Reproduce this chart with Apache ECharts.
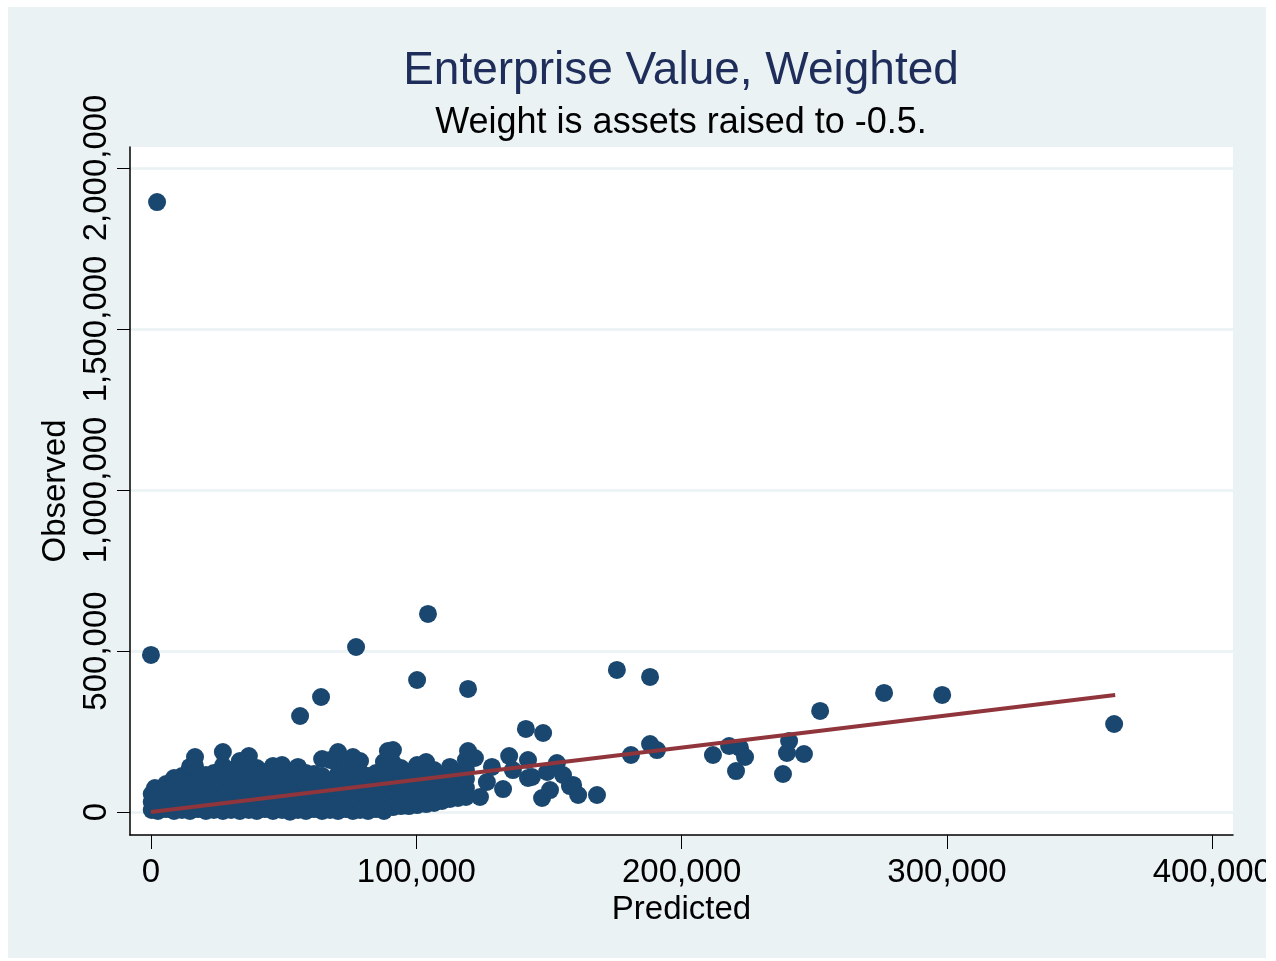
<!DOCTYPE html>
<html>
<head>
<meta charset="utf-8">
<script src="https://cdn.jsdelivr.net/npm/echarts@6/dist/echarts.min.js"></script>
<style>html,body{margin:0;padding:0;background:#fff;}#c{width:1276px;height:961px;}</style>
</head>
<body>
<div id="c"></div>
<script>
// ---- Data (Predicted, Observed) ----
const titleText = 'Enterprise Value, Weighted';
const subtitleText = 'Weight is assets raised to -0.5.';
const xName = 'Predicted';
const yName = 'Observed';
const xTicks = [0, 100000, 200000, 300000, 400000];
const yTicks = [0, 500000, 1000000, 1500000, 2000000];

// dense cluster of small firms
const clusterPoints = [
[300,6200],[300,31100],[300,55900],[1500,74500],
[2600,3100],[2600,28000],[2600,49700],
[5700,9300],[5700,37300],[5700,62100],[5700,87000],
[8700,3100],[8700,24800],[8700,52800],[8700,80700],[8700,105600],
[11700,6200],[11700,34200],[11700,59000],[11700,87000],[11700,111800],
[14700,3100],[14700,28000],[14700,55900],[14700,80700],[14700,108700],[14700,139800],
[16600,170800],[16600,142900],
[17700,9300],[17700,37300],[17700,68300],[17700,96300],
[20700,3100],[20700,31100],[20700,55900],[20700,83900],[20700,114900],
[23700,6200],[23700,34200],[23700,62100],[23700,90100],[23700,121100],
[27100,3100],[27100,28000],[27100,55900],[27100,83900],[27100,111800],[27100,142900],[27100,186300],
[30200,6200],[30200,34200],[30200,65200],[30200,96300],[30200,130400],
[33500,3100],[33500,31100],[33500,59000],[33500,87000],[33500,118000],[33500,158400],
[36900,6200],[36900,37300],[36900,68300],[36900,99400],[36900,133500],[36900,173900],
[39900,3100],[39900,28000],[39900,59000],[39900,87000],[39900,114900],[39900,136600],
[43000,9300],[43000,37300],[43000,65200],[43000,93200],[43000,124200],
[46000,3100],[46000,31100],[46000,59000],[46000,90100],[46000,118000],[46000,142900],
[49400,6200],[49400,34200],[49400,65200],[49400,96300],[49400,127300],[49400,146000],
[52400,1000],[52400,28000],[52400,55900],[52400,83900],[52400,114900],
[55400,6200],[55400,34200],[55400,62100],[55400,90100],[55400,118000],[55400,139800],
[58400,3100],[58400,31100],[58400,59000],[58400,87000],[58400,121100],
[61400,9300],[61400,37300],[61400,65200],[61400,93200],[61400,118000],
[64500,3100],[64500,28000],[64500,55900],[64500,83900],[64500,111800],[64500,164600],
[67500,6200],[67500,34200],[67500,65200],[67500,96300],[67500,161500],
[70500,3100],[70500,31100],[70500,59000],[70500,87000],[70500,118000],[70500,149100],[70500,186300],
[73500,9300],[73500,37300],[73500,68300],[73500,96300],[73500,127300],[73500,146000],
[76100,3100],[76100,28000],[76100,55900],[76100,87000],[76100,118000],[76100,170800],
[78800,6200],[78800,34200],[78800,62100],[78800,90100],[78800,124200],[78800,158400],
[81800,3100],[81800,31100],[81800,59000],[81800,87000],[81800,111800],
[84800,9300],[84800,37300],[84800,65200],[84800,93200],[84800,121100],
[87800,3100],[87800,28000],[87800,55900],[87800,83900],[87800,114900],[87800,155300],
[89300,189400],
[91200,15500],[91200,40400],[91200,65200],[91200,90100],[91200,121100],[91200,152200],[91200,192500],
[94200,18600],[94200,43500],[94200,68300],[94200,93200],[94200,114900],[94200,136600],
[97200,18600],[97200,46600],[97200,71400],[97200,99400],[97200,124200],
[100300,21700],[100300,49700],[100300,74500],[100300,99400],[100300,124200],[100300,146000],
[103700,24800],[103700,52800],[103700,77600],[103700,102500],[103700,127300],[103700,155300],
[106700,28000],[106700,55900],[106700,80700],[106700,105600],[106700,130400],
[109700,34200],[109700,59000],[109700,83900],[109700,108700],
[112700,40400],[112700,65200],[112700,90100],[112700,114900],[112700,139800],
[115700,43500],[115700,68300],[115700,96300],[115700,121100],
[118700,46600],[118700,74500],[118700,102500],[118700,130400],[118700,161500],
[119500,189400]
];

// sparser mid-size firms
const midPoints = [
[122100,167700],[124000,46600],[126600,93200],[128500,139800],[132700,71400],
[135000,173900],[136400,130400],[142100,161500],[142100,105600],[147400,43500],
[149300,124200],[150400,68300],[153000,152200],[155300,114900],[159100,83900],
[161000,52800],[168100,52800],[157900,80700],[143600,108700],[141300,257800],
[147800,245300],
[180900,177000],[188100,211200],[190700,192500],[211800,177000],[217900,205000],
[222000,198800],[223900,170800],[220500,127300],[240500,220500],[239700,183200],
[246100,180100],[238200,118000],[252200,313700]
];

// isolated points
const outlierPoints = [
[2300,1894000],[0,487600],[77300,512400],[104400,614900],[100300,409900],
[56200,298100],[64100,357100],[119500,382000],[175600,441000],[188100,419300],
[276300,369600],[298200,363400],[363000,273300]
];

// fitted line end points
const fitLine = [[0,0],[363400,363400]];

const FONT = 'Liberation Sans, Arial, Helvetica, sans-serif';
const fmt = v => Number(v).toLocaleString('en-US');

const chart = echarts.init(document.getElementById('c'), null, {renderer:'canvas'});
const dotStyle = {color:'#1A476F', opacity:1};
chart.setOption({
  animation:false,
  backgroundColor:'#ffffff',
  graphic:[
    {type:'rect', z:-10, shape:{x:8,y:7,width:1258,height:951}, style:{fill:'#EAF2F3'}, silent:true},
    {type:'rect', z:100, shape:{x:1266,y:0,width:10,height:961}, style:{fill:'#ffffff'}, silent:true}
  ],
  title:[
    {text:titleText, left:681, top:48, textAlign:'center', padding:0,
     textStyle:{fontFamily:FONT, fontSize:46, fontWeight:'normal', color:'#1E2D5A'}},
    {text:subtitleText, left:681, top:105, textAlign:'center', padding:0,
     textStyle:{fontFamily:FONT, fontSize:36, fontWeight:'normal', color:'#000'}}
  ],
  grid:{left:130, top:147, width:1103, height:688, show:true, backgroundColor:'#ffffff', borderWidth:0, containLabel:false},
  xAxis:{
    type:'value', min:-7900, max:407800,
    name:xName, nameLocation:'middle', nameGap:55,
    nameTextStyle:{fontFamily:FONT, fontSize:33, color:'#000'},
    axisLine:{show:true, onZero:false, lineStyle:{color:'#000', width:1.5}},
    axisTick:{show:true, length:14, customValues:xTicks, lineStyle:{color:'#000', width:1}},
    axisLabel:{customValues:xTicks, margin:21, fontFamily:FONT, fontSize:33, color:'#000', formatter:fmt},
    splitLine:{show:false}
  },
  yAxis:{
    type:'value', min:-71400, max:2065000,
    name:yName, nameLocation:'middle', nameGap:52, nameRotate:90,
    nameTextStyle:{fontFamily:FONT, fontSize:33, color:'#000'},
    axisLine:{show:true, onZero:false, lineStyle:{color:'#000', width:1.5}},
    axisTick:{show:true, length:13, customValues:yTicks, lineStyle:{color:'#000', width:1}},
    axisLabel:{customValues:yTicks, rotate:90, margin:17, fontFamily:FONT, fontSize:33, color:'#000', formatter:fmt},
    splitLine:{show:true, lineStyle:{color:'#EAF2F3', width:2.5}}
  },
  series:[
    {type:'scatter', data:clusterPoints, symbol:'circle', symbolSize:18, itemStyle:dotStyle, silent:true, z:2},
    {type:'scatter', data:midPoints, symbol:'circle', symbolSize:18, itemStyle:dotStyle, silent:true, z:2},
    {type:'scatter', data:outlierPoints, symbol:'circle', symbolSize:18, itemStyle:dotStyle, silent:true, z:2},
    {type:'line', data:fitLine, showSymbol:false, symbol:'none', lineStyle:{color:'#90353B', width:4}, silent:true, z:5}
  ]
});
</script>
</body>
</html>
